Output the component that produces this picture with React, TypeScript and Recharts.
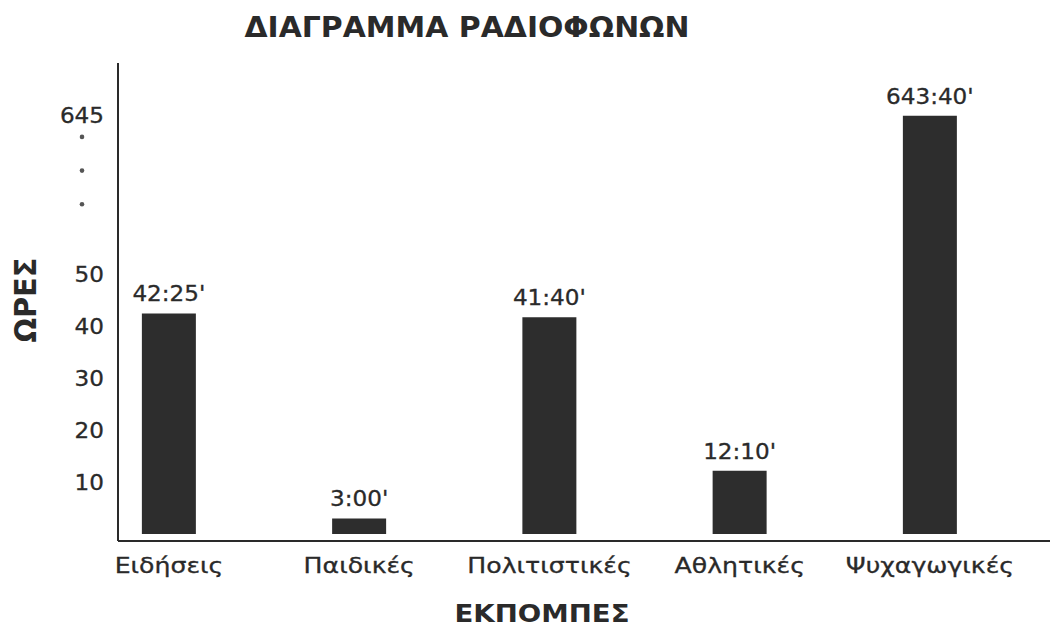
import React from 'react';
import { BarChart, Bar, XAxis, YAxis, LabelList } from 'recharts';

// ---- data ----
const categories = ['Ειδήσεις', 'Παιδικές', 'Πολιτιστικές', 'Αθλητικές', 'Ψυχαγωγικές'];
const hours = [42.42, 3.0, 41.67, 12.17, 643.67];
const hourLabels = ["42:25'", "3:00'", "41:40'", "12:10'", "643:40'"];

const yTickValues = [10, 20, 30, 40, 50, 250, 400, 550, 645];
const yTickLabels = ['10', '20', '30', '40', '50', '•', '•', '•', '645'];

const TITLE = 'ΔΙΑΓΡΑΜΜΑ ΡΑΔΙΟΦΩΝΩΝ';
const Y_TITLE = 'ΩΡΕΣ';
const X_TITLE = 'ΕΚΠΟΜΠΕΣ';

// broken axis: linear up to BREAK, compressed above it
const BREAK = 55;
const COMPRESS = 0.0432;
const toAxis = (v: number) => (v <= BREAK ? v : BREAK + (v - BREAK) * COMPRESS);

const data = categories.map((name, i) => ({
  name,
  value: toAxis(hours[i]),
  label: hourLabels[i],
}));

const FONT = '"DejaVu Sans", Verdana, sans-serif';
const INK = '#2a2a2a';

const XTick = (props: any) => {
  const { x, y, payload } = props;
  return (
    <g transform={`translate(${x},${y + 24}) scale(1.2,1)`}>
      <text x={0} y={0} textAnchor="middle" fontFamily={FONT} fontSize={21} fill={INK} stroke={INK} strokeWidth={0.3}>
        {payload.value}
      </text>
    </g>
  );
};

const YTick = (props: any) => {
  const { x, y, payload } = props;
  const idx = yTickValues.findIndex((v) => Math.abs(toAxis(v) - payload.value) < 1e-6);
  const lab = idx >= 0 ? yTickLabels[idx] : '';
  if (lab === '•') {
    return <circle cx={x - 28} cy={y} r={2.3} fill="#555" />;
  }
  return (
    <g transform={`translate(${x - 6},${y}) scale(1.1,1)`}>
      <text x={0} y={0} dy="0.36em" textAnchor="end" fontFamily={FONT} fontSize={21} fill={INK} stroke={INK} strokeWidth={0.3}>
        {lab}
      </text>
    </g>
  );
};

const BarLabel = (props: any) => {
  const { x, y, width, value } = props;
  return (
    <g transform={`translate(${x + width / 2},${y - 12}) scale(1.1,1)`}>
      <text x={0} y={0} textAnchor="middle" fontFamily={FONT} fontSize={21} fill={INK} stroke={INK} strokeWidth={0.3}>
        {value}
      </text>
    </g>
  );
};

export default function App() {
  return (
    <div style={{ position: 'absolute', left: 0, top: 0, width: 1050, height: 629, background: '#fff' }}>
      <BarChart
        width={1050}
        height={629}
        data={data}
        margin={{ top: 63, right: 0, bottom: 8, left: 0 }}
      >
        <XAxis
          dataKey="name"
          type="category"
          scale="point"
          padding={{ left: 51, right: 120 }}
          height={80}
          axisLine={{ stroke: INK, strokeWidth: 2 }}
          tickLine={false}
          tick={<XTick />}
          interval={0}
        />
        <YAxis
          type="number"
          domain={[-1.35, 90.6]}
          ticks={yTickValues.map(toAxis)}
          width={118}
          axisLine={{ stroke: INK, strokeWidth: 2 }}
          tickLine={false}
          tick={<YTick />}
          interval={0}
          allowDataOverflow
        />
        <Bar dataKey="value" fill="#2d2d2d" barSize={54} isAnimationActive={false}>
          <LabelList dataKey="label" content={<BarLabel />} />
        </Bar>
      </BarChart>
      <svg
        width={1050}
        height={629}
        style={{ position: 'absolute', left: 0, top: 0, pointerEvents: 'none' }}
      >
        <text
          x={467}
          y={37}
          textAnchor="middle"
          fontFamily={FONT}
          fontWeight="bold"
          fontSize={28}
          fill={INK}
          textLength={445}
          lengthAdjust="spacingAndGlyphs"
        >
          {TITLE}
        </text>
        <text
          x={0}
          y={0}
          transform="translate(36,300) rotate(-90)"
          textAnchor="middle"
          fontFamily={FONT}
          fontWeight="bold"
          fontSize={30}
          fill={INK}
          textLength={85}
          lengthAdjust="spacingAndGlyphs"
        >
          {Y_TITLE}
        </text>
        <text
          x={542}
          y={622}
          textAnchor="middle"
          fontFamily={FONT}
          fontWeight="bold"
          fontSize={24}
          fill={INK}
          textLength={175}
          lengthAdjust="spacingAndGlyphs"
        >
          {X_TITLE}
        </text>
      </svg>
    </div>
  );
}
